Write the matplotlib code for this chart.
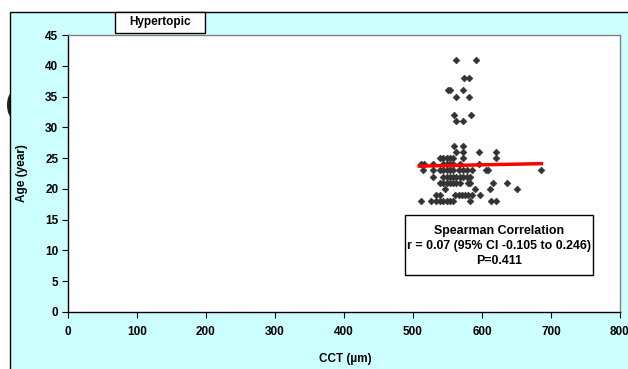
import matplotlib
matplotlib.use("Agg")
import matplotlib.pyplot as plt
from matplotlib.patches import Rectangle, Ellipse

plt.rcParams['font.family'] = ['Liberation Sans', 'DejaVu Sans']

# Data (CCT in µm, Age in years)
cct = [563, 591,
       574, 581,
       550, 553, 573,
       562, 581,
       560, 584,
       562, 573,
       560, 573,
       563, 573, 596, 620,
       539, 544, 549, 553, 558, 573, 620,
       511, 516, 529, 544, 549, 553, 558, 568, 595,
       514, 529, 539, 544, 549, 553, 558, 566, 573, 578, 585, 606, 608, 686,
       529, 544, 549, 553, 558, 563, 568, 573, 578, 583,
       539, 544, 549, 553, 558, 563, 568, 580, 583, 616, 636,
       546, 590, 612, 650,
       534, 539, 561, 566, 571, 575, 580, 585, 597,
       511, 526, 534, 539, 544, 549, 553, 558, 582, 613, 620]
age = [41, 41,
       38, 38,
       36, 36, 36,
       35, 35,
       32, 32,
       31, 31,
       27, 27,
       26, 26, 26, 26,
       25, 25, 25, 25, 25, 25, 25,
       24, 24, 24, 24, 24, 24, 24, 24, 24,
       23, 23, 23, 23, 23, 23, 23, 23, 23, 23, 23, 23, 23, 23,
       22, 22, 22, 22, 22, 22, 22, 22, 22, 22,
       21, 21, 21, 21, 21, 21, 21, 21, 21, 21, 21,
       20, 20, 20, 20,
       19, 19, 19, 19, 19, 19, 19, 19, 19,
       18, 18, 18, 18, 18, 18, 18, 18, 18, 18, 18]

fit_x = [509, 686]
fit_y = [23.7, 24.1]

xticks = [0, 100, 200, 300, 400, 500, 600, 700, 800]
yticks = [0, 5, 10, 15, 20, 25, 30, 35, 40, 45]

W, H = 628, 369
FS = 8.5
fig = plt.figure(figsize=(W / 100, H / 100), dpi=100)
fig.patch.set_facecolor('white')

def fx(px):
    return px / W

def fy(py):
    return 1 - py / H

# artifact at left edge
fig.patches.append(Ellipse((fx(12), fy(105)), 10 / W, 24 / H, transform=fig.transFigure,
                           facecolor='#222222', edgecolor='none', zorder=0))
# cyan chart area with black border
fig.patches.append(Rectangle((fx(10), fy(374)), (W + 10 - 10) / W, (374 - 12) / H,
                             transform=fig.transFigure, facecolor='#CCFFFF',
                             edgecolor='black', linewidth=1.0, zorder=1))

ax = fig.add_axes([fx(68), fy(312), (620 - 68) / W, (312 - 35) / H])
ax.set_facecolor('white')
ax.set_zorder(2)

ax.plot(cct, age, linestyle='none', marker='D', markersize=3.4,
        markerfacecolor='#333333', markeredgecolor='#333333', markeredgewidth=0.5, zorder=3)
ax.plot(fit_x, fit_y, color='#FF0000', linewidth=2.5, zorder=4)

ax.set_xlim(0, 800)
ax.set_ylim(0, 45)
ax.set_xticks(xticks)
ax.set_yticks(yticks)
ax.tick_params(axis='both', direction='out', length=4, width=0.8, labelsize=FS, pad=3)
ax.tick_params(axis='x', pad=6)
for lab in ax.get_xticklabels() + ax.get_yticklabels():
    lab.set_fontweight('bold')

ax.spines['left'].set_color('black')
ax.spines['bottom'].set_color('black')
ax.spines['top'].set_color('#808080')
ax.spines['right'].set_color('#808080')
for s in ax.spines.values():
    s.set_linewidth(1.0)

ax.set_xlabel('CCT (µm)', fontsize=FS, fontweight='bold')
ax.xaxis.set_label_coords((345 - 68) / (620 - 68), -(353 - 312) / (312 - 35))
ax.set_ylabel('Age (year)', fontsize=FS, fontweight='bold')
ax.yaxis.set_label_coords(-(68 - 28) / (620 - 68), 0.5)

# Title box "Hypertopic"
fig.patches.append(Rectangle((fx(115), fy(33)), 90 / W, 21 / H, transform=fig.transFigure,
                             facecolor='white', edgecolor='black', linewidth=1.0, zorder=4))
fig.text(fx(160), fy(22), 'Hypertopic', ha='center', va='center', fontsize=FS,
         fontweight='bold', zorder=5)

# Correlation text box
fig.patches.append(Rectangle((fx(405), fy(275)), (593 - 405) / W, (275 - 215) / H,
                             transform=fig.transFigure, facecolor='white',
                             edgecolor='black', linewidth=1.0, zorder=5))
lines = ['Spearman Correlation', 'r = 0.07 (95% CI -0.105 to 0.246)', 'P=0.411']
for txt, py in zip(lines, [231, 245.5, 260.5]):
    fig.text(fx(499), fy(py), txt, ha='center', va='center', fontsize=8.9,
             fontweight='bold', zorder=6)

fig.savefig('out.png', dpi=100)
